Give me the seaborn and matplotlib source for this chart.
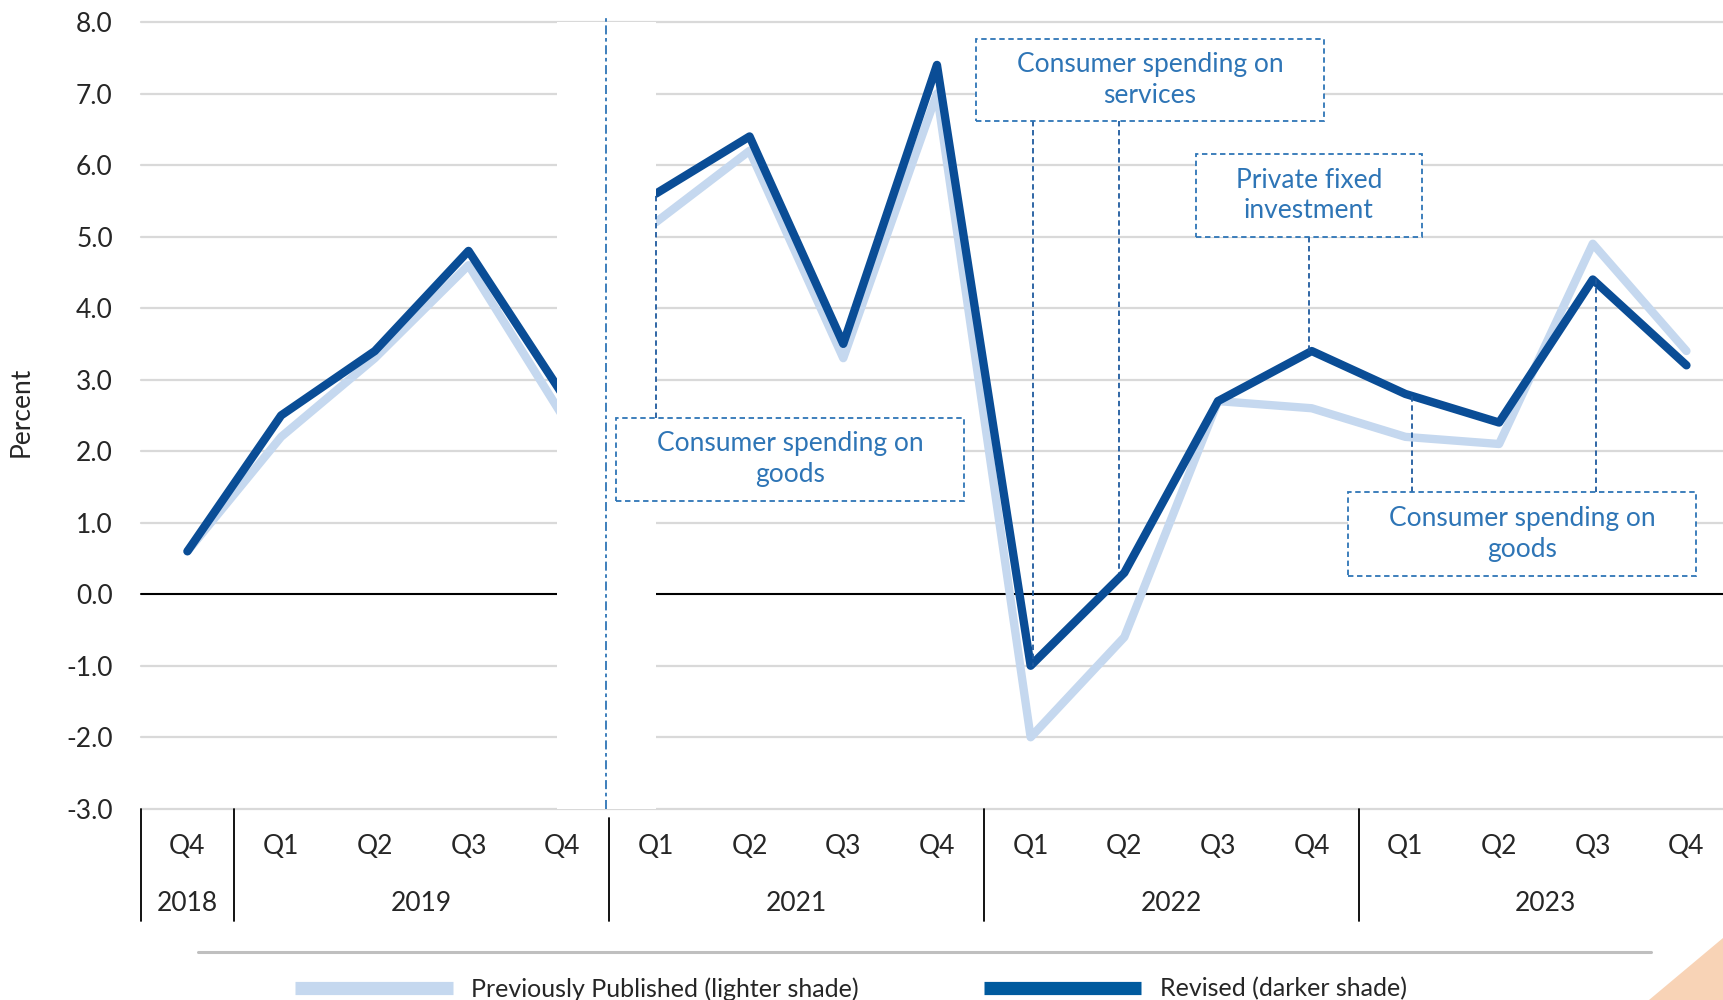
import numpy as np
import pandas as pd
import matplotlib
matplotlib.use("Agg")
import matplotlib.pyplot as plt
from matplotlib.lines import Line2D
from matplotlib.patches import Rectangle, Polygon
import seaborn as sns

# ---- data (percent change, annual rate) ----
quarters = ["Q4", "Q1", "Q2", "Q3", "Q4",
            "Q1", "Q2", "Q3", "Q4",
            "Q1", "Q2", "Q3", "Q4",
            "Q1", "Q2", "Q3", "Q4"]
years = ["2018", "2019", "2021", "2022", "2023"]
year_spans = [(0, 0), (1, 4), (5, 8), (9, 12), (13, 16)]
segment = [0, 0, 0, 0, 0, 1, 1, 1, 1, 1, 1, 1, 1, 1, 1, 1, 1]

previous = [0.6, 2.2, 3.3, 4.6, 2.5,
            5.2, 6.2, 3.3, 7.0,
            -2.0, -0.6, 2.7, 2.6,
            2.2, 2.1, 4.9, 3.4]
revised = [0.6, 2.5, 3.4, 4.8, 2.8,
           5.6, 6.4, 3.5, 7.4,
           -1.0, 0.3, 2.7, 3.4,
           2.8, 2.4, 4.4, 3.2]

pos = np.arange(len(quarters))
df = pd.concat([
    pd.DataFrame({"pos": pos, "value": previous, "segment": segment,
                  "series": "Previously Published (lighter shade)"}),
    pd.DataFrame({"pos": pos, "value": revised, "segment": segment,
                  "series": "Revised (darker shade)"}),
])

light = "#C5D8EF"
dark = "#0A4D96"
note_blue = "#2E75B6"
conn_blue = "#1F5A9E"

sns.set_theme(style="white")
plt.rcParams["font.family"] = ["Lato", "DejaVu Sans"]
plt.rcParams["axes.unicode_minus"] = False
fs = 19

fig = plt.figure(figsize=(17.23, 10), dpi=100)
ax = fig.add_axes([0.0816, 0.1912, 0.9184, 0.7868])

# gridlines
for y in range(-3, 9):
    ax.axhline(y, color="black" if y == 0 else "#D9D9D9",
               lw=1.5 if y == 0 else 1.6, zorder=1, clip_on=False)

sns.lineplot(data=df, x="pos", y="value", hue="series", units="segment",
             estimator=None, sort=False, ax=ax, legend=False,
             hue_order=["Previously Published (lighter shade)", "Revised (darker shade)"],
             palette={"Previously Published (lighter shade)": light,
                      "Revised (darker shade)": dark},
             linewidth=6, solid_capstyle="round", solid_joinstyle="round")

# gap for the omitted year
ax.axvspan(3.94, 5.0, color="white", zorder=2.6, lw=0)
ax.plot([4.47, 4.47], [-3, 8.05], color=note_blue, lw=1.3,
        ls=(0, (5, 2, 2, 2)), zorder=4, clip_on=False)

ax.set_xlim(-0.5, 16.39)
ax.set_ylim(-3, 8)
ax.set_yticks(range(-3, 9))
ax.set_yticklabels([f"{v:.1f}" for v in range(-3, 9)], fontsize=fs)
ax.tick_params(axis="y", length=0, pad=20)
ax.set_xticks([])
ax.set_xlabel("")
ax.set_ylabel("")
for s in ax.spines.values():
    s.set_visible(False)

fig.text(0.0125, 0.588, "Percent", rotation=90, ha="center", va="center", fontsize=fs)

# two-level category axis
tr = ax.get_xaxis_transform()
for p, q in zip(pos, quarters):
    ax.text(p, -0.0475, q, transform=tr, ha="center", va="center", fontsize=fs)
for (a, b), yr in zip(year_spans, years):
    ax.text((a + b) / 2, -0.1204, yr, transform=tr, ha="center", va="center", fontsize=fs)
for (a, b) in year_spans:
    top = -0.012 if a == 5 else 0
    ax.plot([a - 0.5, a - 0.5], [top, -0.142], transform=tr, color="black",
            lw=1.3, clip_on=False)

# annotations: box extents, text, connectors (x position, quarter index), side
notes = [
    (4.57, 8.29, 1.31, 2.47, "Consumer spending on\ngoods", [(5.0, 5)], "top"),
    (8.42, 12.13, 6.62, 7.76, "Consumer spending on\nservices", [(9.03, 9), (9.94, 10)], "bottom"),
    (10.76, 13.18, 4.99, 6.16, "Private fixed\ninvestment", [(11.97, 12)], "bottom"),
    (12.39, 16.10, 0.26, 1.43, "Consumer spending on\ngoods", [(13.07, 13), (15.03, 15)], "top"),
]
for x0, x1, y0, y1, txt, conns, side in notes:
    ax.add_patch(Rectangle((x0, y0), x1 - x0, y1 - y0, fill=True, facecolor="white",
                           edgecolor=note_blue, lw=1.3, ls=(0, (3, 2)), zorder=5))
    ax.text((x0 + x1) / 2, (y0 + y1) / 2, txt, ha="center", va="center",
            fontsize=fs, color=note_blue, zorder=6, linespacing=1.28)
    for cx, idx in conns:
        start = y1 if side == "top" else y0
        ax.plot([cx, cx], [start, revised[idx]], color=conn_blue, lw=1.3,
                ls=(0, (3, 2)), zorder=4)

# separator line and legend at the bottom
fig.add_artist(Line2D([0.1148, 0.9585], [0.0484, 0.0484], color="#BFBFBF", lw=2.2,
                      transform=fig.transFigure))
handles = [Line2D([], [], color=light, lw=9.5, solid_capstyle="butt"),
           Line2D([], [], color="#005A9E", lw=9.5, solid_capstyle="butt")]
fig.legend(handles, ["Previously Published (lighter shade)", "Revised (darker shade)"],
           loc="center", bbox_to_anchor=(0.494, 0.011), ncol=2, frameon=False,
           fontsize=18, handlelength=6.3, handletextpad=0.75, columnspacing=5.0)

# decorative corner
fig.add_artist(Polygon([(0.957, 0.0), (1.0, 0.0), (1.0, 0.062)], closed=True,
                       facecolor="#F8D3B6", edgecolor="none", transform=fig.transFigure))

fig.savefig("out.png", dpi=100)
